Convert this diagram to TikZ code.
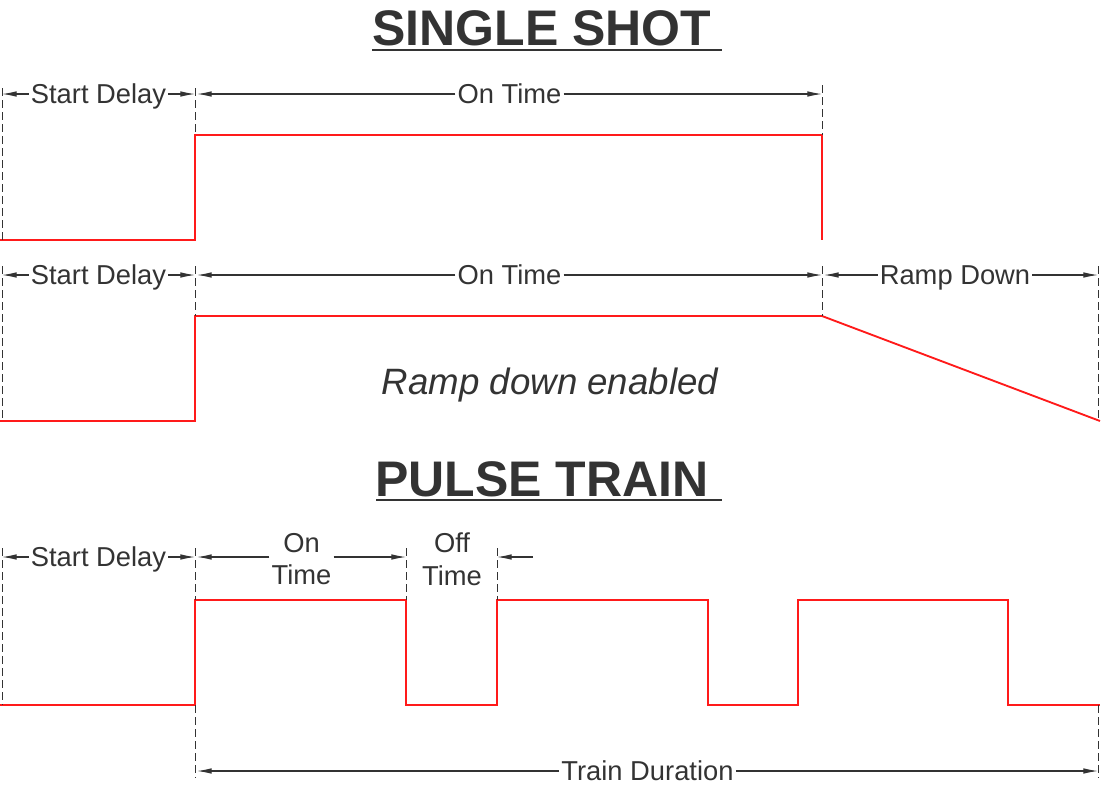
\documentclass[tikz,border=0pt]{standalone}
\usepackage{fontspec}
\setmainfont{Liberation Sans}
\usetikzlibrary{arrows.meta,calc}

\definecolor{ink}{HTML}{333333}
\definecolor{wave}{HTML}{FF1A1A}

\tikzset{
  title/.style={text=ink, font=\bfseries\fontsize{37.5}{40}\selectfont,
    inner sep=0pt, text height=27pt, text depth=0pt},
  rule/.style={draw=ink, line width=1pt},
  sig/.style={draw=wave, line width=1.4pt},
  ext/.style={draw=ink, line width=0.7pt, dash pattern=on 6pt off 3pt},
  dim/.style={draw=ink, line width=0.8pt, -{Latex[length=11pt,width=4.2pt]}},
  lbl/.style={text=ink, font=\fontsize{20.5}{24.6}\selectfont, inner sep=1.5pt},
  one/.style={text height=14.7pt, text depth=0pt},
  two/.style={align=center},
  note/.style={text=ink, font=\itshape\fontsize{27.5}{30}\selectfont,
    inner sep=0pt, text height=19.7pt, text depth=0pt}
}

% dimension line with its label in the middle
\newcommand{\dimspan}[6][one]{%
  \coordinate (#2L) at (#3,#5);
  \coordinate (#2R) at (#4,#5);
  \node[lbl,#1] (#2) at ($(#2L)!0.5!(#2R)$) {#6};
  \draw[dim] (#2.west |- #2L) -- (#2L);
  \draw[dim] (#2.east |- #2R) -- (#2R);
}

\begin{document}
\begin{tikzpicture}[x=0.75pt,y=-0.75pt]
\useasboundingbox (0,0) rectangle (1101,790);

% titles
\node[title] (shot) at (542,27) {SINGLE SHOT};
\draw[rule] (372,50) -- (722,50);
\node[title] (train) at (542,478) {PULSE TRAIN};
\draw[rule] (376,500) -- (722,500);

% single shot
\draw[sig] (0,240) -- (195,240) -- (195,135) -- (822,135) -- (822,240);
\draw[ext] (2,88) -- (2,240);
\draw[ext] (195,88) -- (195,135);
\draw[ext] (822,85) -- (822,135);
\dimspan{sdA}{2}{195}{94}{Start Delay}
\dimspan{onA}{197}{822}{94}{On Time}

% single shot, ramp down enabled
\draw[sig] (0,421) -- (195,421) -- (195,316) -- (822,316) -- (1100,421);
\draw[ext] (2,266) -- (2,421);
\draw[ext] (195,266) -- (195,316);
\draw[ext] (822,266) -- (822,316);
\draw[ext] (1098,266) -- (1098,421);
\dimspan{sdB}{2}{195}{275}{Start Delay}
\dimspan{onB}{197}{822}{275}{On Time}
\dimspan[one,xshift=-4.5pt]{rdB}{824}{1098}{275}{Ramp Down}
\node[note] (ramp) at (550,381) {Ramp down enabled};

% pulse train
\draw[sig] (0,705) -- (195,705) -- (195,600) -- (406,600) -- (406,705)
  -- (497,705) -- (497,600) -- (708,600) -- (708,705) -- (798,705)
  -- (798,600) -- (1008,600) -- (1008,705) -- (1100,705);
\draw[ext] (2,548) -- (2,705);
\foreach \x in {195,406,497}{\draw[ext] (\x,548) -- (\x,600);}
\draw[ext] (195,705) -- (195,778);
\draw[ext] (1098,705) -- (1098,778);
\dimspan{sdC}{2}{195}{557}{Start Delay}
\dimspan[two,yshift=-1.5pt]{onC}{197}{406}{557}{On\\Time}
\node[lbl,two] (offC) at (452,559) {Off\\Time};
\coordinate (offR) at (533,557);
\coordinate (offL) at (497,557);
\draw[dim] (offR) -- (offL);
\dimspan{tdC}{197}{1098}{771}{Train Duration}
\end{tikzpicture}
\end{document}
